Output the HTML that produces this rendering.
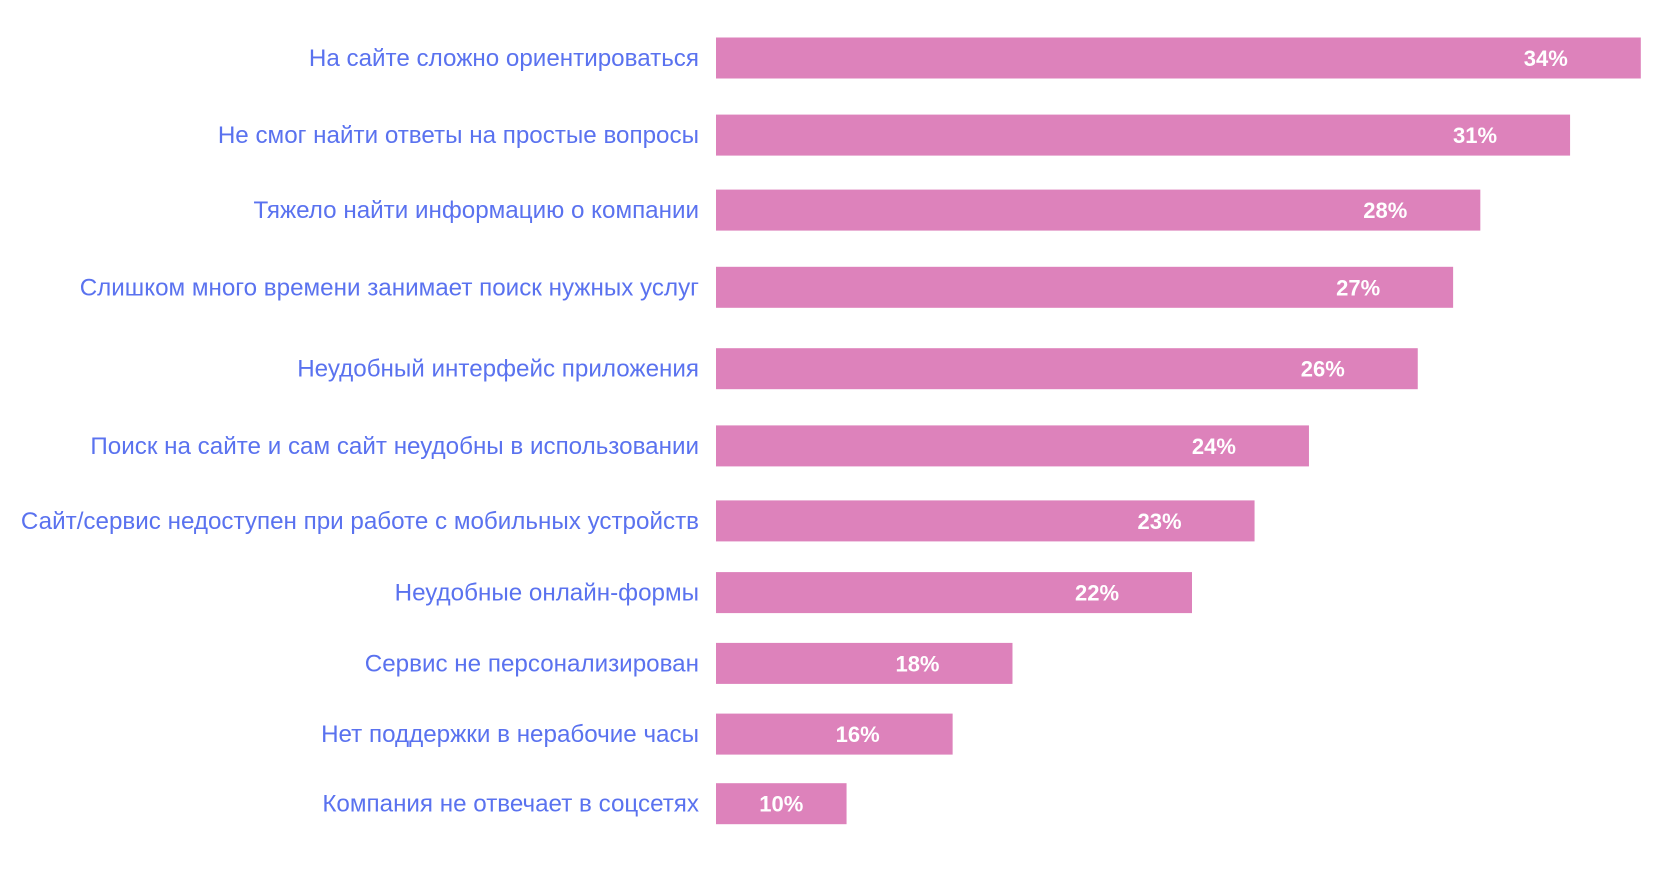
<!DOCTYPE html>
<html><head><meta charset="utf-8"><style>
html,body{margin:0;padding:0;background:#fff;}
body{width:1680px;height:869px;overflow:hidden;font-family:"Liberation Sans","DejaVu Sans",sans-serif;}
svg text{font-family:"Liberation Sans","DejaVu Sans",sans-serif;}
</style></head><body>
<svg id="chart" width="1680" height="869" xmlns="http://www.w3.org/2000/svg"></svg>
<script>
const categories=["На сайте сложно ориентироваться","Не смог найти ответы на простые вопросы","Тяжело найти информацию о компании","Слишком много времени занимает поиск нужных услуг","Неудобный интерфейс приложения","Поиск на сайте и сам сайт неудобны в использовании","Сайт/сервис недоступен при работе с мобильных устройств","Неудобные онлайн-формы","Сервис не персонализирован","Нет поддержки в нерабочие часы","Компания не отвечает в соцсетях"];
const valueLabels=["34%","31%","28%","27%","26%","24%","23%","22%","18%","16%","10%"];
const barValues=[34,31.4,28.1,27.1,25.8,21.8,19.8,17.5,10.9,8.7,4.8];
const rowTops=[37.5,114.6,189.6,266.8,348.2,425.4,500.4,572.1,642.9,713.6,783.2];
const svg=document.getElementById('chart');
const NS='http://www.w3.org/2000/svg';
const x0=716, unit=27.2, bh=41;
function xs(v){return v*unit;}
categories.forEach((c,i)=>{
  const y=rowTops[i];
  const len=xs(barValues[i]);
  const r=document.createElementNS(NS,'rect');
  r.setAttribute('x',x0);r.setAttribute('y',y);r.setAttribute('width',len);r.setAttribute('height',bh);r.setAttribute('fill','#dd82bb');
  
  
  svg.appendChild(r);
  const t=document.createElementNS(NS,'text');
  t.setAttribute('x',699);t.setAttribute('y',y+bh/2+8);t.setAttribute('text-anchor','end');
  t.setAttribute('font-size','24.2');t.setAttribute('fill','#5a72ef');
  t.textContent=c;
  
  
  svg.appendChild(t);
  const v=document.createElementNS(NS,'text');
  v.setAttribute('x',x0+Math.max(len-95,len/2));v.setAttribute('y',y+bh/2+8);v.setAttribute('text-anchor','middle');
  v.setAttribute('font-size','22');v.setAttribute('fill','#fff');v.setAttribute('font-weight','bold');
  v.textContent=valueLabels[i];
  
  
  svg.appendChild(v);
});
</script>
</body></html>
